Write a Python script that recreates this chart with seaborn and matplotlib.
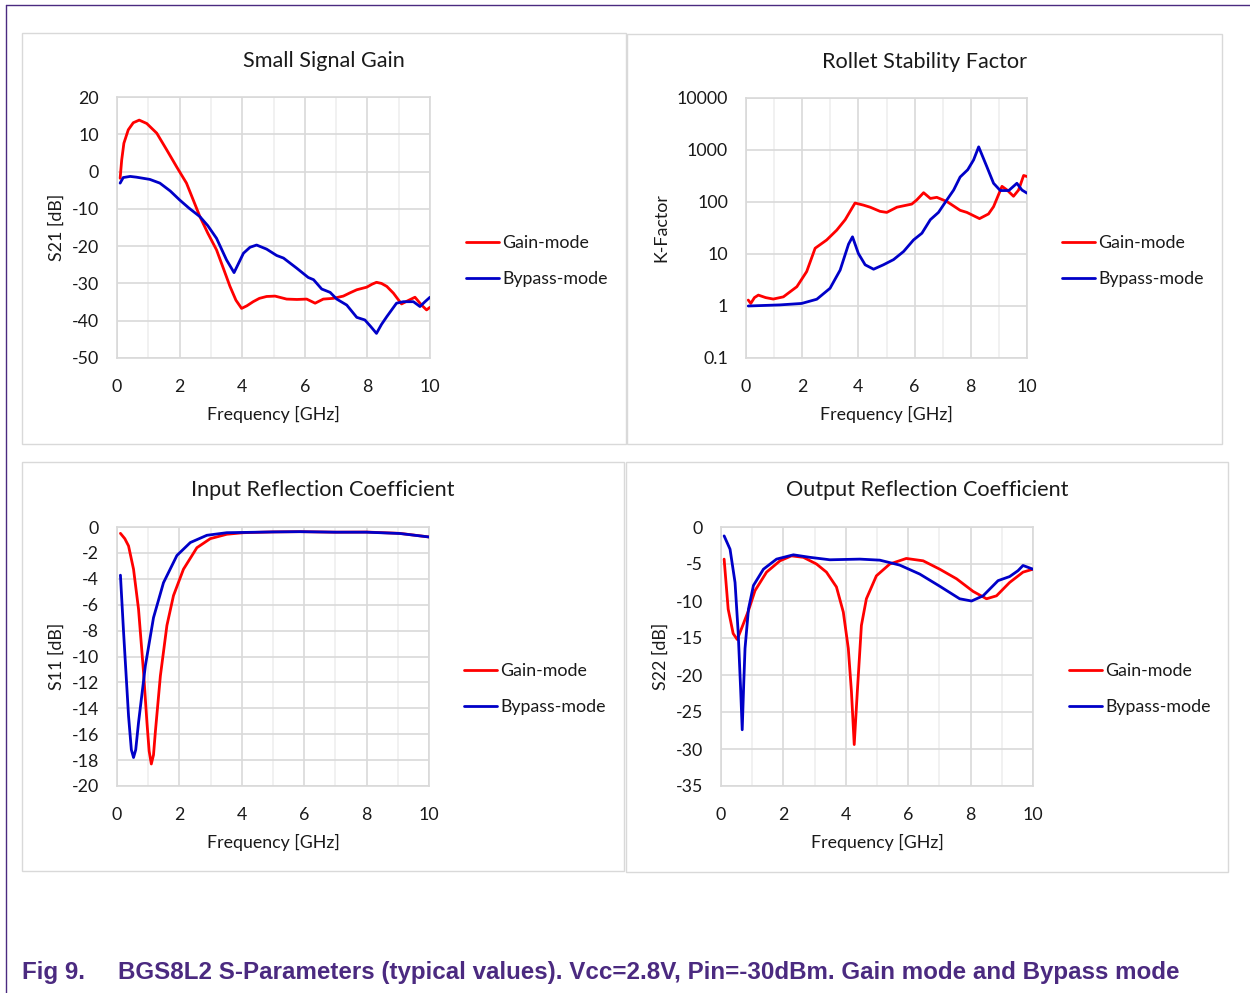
import numpy as np
import pandas as pd
import seaborn as sns
import matplotlib
matplotlib.use("Agg")
import matplotlib.pyplot as plt
from matplotlib.patches import Rectangle
from matplotlib.lines import Line2D
from matplotlib.ticker import MultipleLocator, FixedLocator, FixedFormatter

# ---------------- data ----------------
series_names = ["Gain-mode", "Bypass-mode"]

s21_gain_f = [0.1, 0.15, 0.22, 0.36, 0.52, 0.71, 0.95, 1.27, 1.59, 1.91, 2.22, 2.65, 2.9, 3.18, 3.4, 3.61, 3.8, 3.98, 4.15, 4.35, 4.55, 4.78, 5.05, 5.42, 5.75, 6.06, 6.33, 6.59, 6.91, 7.23, 7.45, 7.66, 7.98, 8.15, 8.29, 8.45, 8.62, 8.83, 9.09, 9.3, 9.52, 9.73, 9.89, 10.0]
s21_gain_v = [-1.8, 3.1, 7.6, 11.2, 13.1, 13.8, 12.9, 10.3, 5.8, 1.2, -3.1, -12.1, -16.5, -21.0, -26.0, -30.8, -34.5, -36.7, -36.0, -34.9, -34.0, -33.5, -33.4, -34.2, -34.3, -34.2, -35.3, -34.2, -34.0, -33.4, -32.5, -31.7, -31.0, -30.2, -29.7, -30.0, -30.8, -32.6, -35.5, -34.6, -33.7, -35.8, -37.1, -36.4]
s21_byp_f = [0.1, 0.2, 0.42, 0.62, 1.05, 1.37, 1.7, 2.0, 2.3, 2.65, 2.9, 3.18, 3.5, 3.74, 4.04, 4.25, 4.46, 4.78, 5.1, 5.32, 5.74, 6.11, 6.28, 6.54, 6.81, 7.02, 7.34, 7.66, 7.92, 8.1, 8.29, 8.45, 8.62, 8.93, 9.15, 9.47, 9.68, 9.84, 10.0]
s21_byp_v = [-3.1, -1.6, -1.3, -1.5, -2.1, -3.1, -5.2, -7.6, -9.8, -12.1, -14.5, -17.9, -23.7, -27.1, -21.9, -20.3, -19.7, -20.8, -22.5, -23.2, -25.9, -28.4, -29.0, -31.5, -32.4, -34.2, -35.8, -39.1, -39.8, -41.5, -43.4, -41.0, -38.9, -35.3, -34.9, -34.9, -36.2, -34.9, -33.7]

k_gain_f = [0.08, 0.17, 0.3, 0.44, 0.7, 0.97, 1.33, 1.81, 2.16, 2.46, 2.87, 3.23, 3.53, 3.88, 4.18, 4.42, 4.77, 5.01, 5.37, 5.9, 6.08, 6.32, 6.56, 6.79, 7.15, 7.62, 7.86, 8.31, 8.63, 8.81, 9.11, 9.29, 9.52, 9.7, 9.88, 10.0]
k_gain_v = [1.3, 1.12, 1.45, 1.62, 1.45, 1.36, 1.5, 2.35, 4.6, 12.9, 18.6, 28.8, 45.7, 95.5, 87.1, 79.4, 66.1, 63.1, 79.4, 91.2, 110.0, 151.0, 117.0, 123.0, 102.0, 69.2, 63.1, 47.9, 58.9, 81.3, 200.0, 170.0, 129.0, 170.0, 324.0, 309.0]
k_byp_f = [0.08, 1.21, 1.98, 2.52, 2.99, 3.35, 3.65, 3.79, 4.0, 4.24, 4.54, 4.89, 5.25, 5.61, 5.96, 6.26, 6.56, 6.85, 7.15, 7.39, 7.62, 7.89, 8.1, 8.28, 8.57, 8.81, 9.05, 9.35, 9.64, 9.82, 10.0]
k_byp_v = [1.0, 1.05, 1.12, 1.35, 2.19, 4.9, 15.5, 21.4, 10.2, 6.2, 5.1, 6.2, 7.8, 11.2, 18.6, 25.1, 45.7, 63.1, 110.0, 170.0, 302.0, 417.0, 646.0, 1150.0, 479.0, 229.0, 166.0, 166.0, 229.0, 170.0, 148.0]

s11_gain_f = [0.11, 0.25, 0.37, 0.53, 0.69, 0.85, 0.96, 1.03, 1.1, 1.17, 1.23, 1.39, 1.6, 1.81, 2.13, 2.56, 2.99, 3.52, 4.05, 5.0, 5.86, 7.0, 8.0, 9.06, 10.0]
s11_gain_v = [-0.49, -0.9, -1.46, -3.26, -6.34, -11.2, -15.1, -17.3, -18.3, -17.6, -15.8, -11.5, -7.6, -5.3, -3.26, -1.6, -0.9, -0.56, -0.44, -0.38, -0.36, -0.4, -0.39, -0.49, -0.77]
s11_byp_f = [0.11, 0.21, 0.37, 0.46, 0.53, 0.6, 0.69, 0.91, 1.17, 1.49, 1.92, 2.35, 2.88, 3.52, 4.05, 5.0, 5.86, 7.0, 8.0, 9.06, 10.0]
s11_byp_v = [-3.72, -8.1, -14.6, -17.2, -17.8, -17.2, -15.1, -10.7, -7.0, -4.3, -2.2, -1.2, -0.64, -0.44, -0.42, -0.38, -0.36, -0.4, -0.4, -0.5, -0.77]

s22_gain_f = [0.1, 0.23, 0.39, 0.52, 0.66, 0.88, 1.09, 1.46, 1.89, 2.26, 2.64, 3.06, 3.38, 3.7, 3.92, 4.08, 4.18, 4.27, 4.37, 4.5, 4.66, 4.98, 5.41, 5.94, 6.48, 7.01, 7.55, 8.08, 8.51, 8.83, 9.25, 9.68, 10.0]
s22_gain_v = [-4.34, -11.1, -14.4, -15.2, -13.7, -11.3, -8.6, -6.1, -4.57, -3.9, -4.1, -5.0, -6.1, -8.1, -11.5, -16.4, -22.2, -29.4, -22.2, -13.3, -9.7, -6.6, -5.0, -4.25, -4.57, -5.7, -7.0, -8.7, -9.7, -9.3, -7.5, -6.1, -5.7]
s22_byp_f = [0.1, 0.29, 0.45, 0.55, 0.63, 0.68, 0.73, 0.77, 0.88, 1.04, 1.36, 1.78, 2.32, 2.85, 3.49, 4.45, 5.09, 5.73, 6.37, 7.01, 7.65, 8.03, 8.4, 8.88, 9.25, 9.52, 9.68, 10.0]
s22_byp_v = [-1.2, -3.0, -7.5, -14.2, -22.0, -27.4, -21.0, -16.4, -11.1, -7.9, -5.7, -4.34, -3.76, -4.1, -4.43, -4.34, -4.48, -5.15, -6.36, -8.0, -9.7, -10.0, -9.3, -7.25, -6.7, -5.9, -5.2, -5.7]

titles = ["Small Signal Gain", "Rollet Stability Factor", "Input Reflection Coefficient", "Output Reflection Coefficient"]
ylabels = ["S21 [dB]", "K-Factor", "S11 [dB]", "S22 [dB]"]
xlabel = "Frequency [GHz]"
k_ticks = [0.1, 1, 10, 100, 1000, 10000]
k_ticklabels = ["0.1", "1", "10", "100", "1000", "10000"]
caption_num = "Fig 9."
caption_text = "BGS8L2 S-Parameters (typical values). Vcc=2.8V, Pin=-30dBm. Gain mode and Bypass mode"

# ---------------- style ----------------
sns.set_theme(style="white")
plt.rcParams['font.family'] = ['Lato', 'DejaVu Sans']
plt.rcParams['axes.unicode_minus'] = False
TXT = '#1a1a1a'
GRID = '#d9d9d9'
MINOR = '#efefef'
palette = {"Gain-mode": "#ff0000", "Bypass-mode": "#0000c8"}
FS = 12.8

W, H = 1250, 993
fig = plt.figure(figsize=(W / 100, H / 100), dpi=100)

def fx(px):
    return px / W

def fy(py):
    return 1 - py / H

# outer frame lines (purple)
PURPLE = '#4b2a80'
fig.add_artist(Line2D([fx(6), fx(1250)], [fy(5), fy(5)], color=PURPLE, lw=1.0))
fig.add_artist(Line2D([fx(6), fx(6)], [fy(5), fy(993)], color=PURPLE, lw=1.0))

# panel borders
panels = [(22, 33, 626, 444), (627, 34, 1222, 444), (22, 462, 624, 871), (626, 462, 1228, 872)]
for (x0, y0, x1, y1) in panels:
    fig.add_artist(Rectangle((fx(x0), fy(y1)), fx(x1) - fx(x0), fy(y0) - fy(y1),
                             transform=fig.transFigure, fill=False, edgecolor=GRID, lw=1.0))

# axes rects (pixel)
ax_px = [(117, 97, 430, 358), (746, 98, 1027, 358), (117, 527, 429, 786), (721, 527, 1033, 786)]
legend_pos = [(466, 261), (1062, 261), (464, 689), (1069, 689)]
title_pos = [(324, 61), (925, 62), (323, 490), (927, 490)]
ylabel_x = [57, 661, 57, 661]

datasets = [
    (s21_gain_f, s21_gain_v, s21_byp_f, s21_byp_v),
    (k_gain_f, k_gain_v, k_byp_f, k_byp_v),
    (s11_gain_f, s11_gain_v, s11_byp_f, s11_byp_v),
    (s22_gain_f, s22_gain_v, s22_byp_f, s22_byp_v),
]

for i in range(4):
    x0, y0, x1, y1 = ax_px[i]
    ax = fig.add_axes([fx(x0), fy(y1), fx(x1) - fx(x0), fy(y0) - fy(y1)])
    gf, gv, bf, bv = datasets[i]
    df = pd.concat([
        pd.DataFrame({"f": gf, "v": gv, "mode": series_names[0]}),
        pd.DataFrame({"f": bf, "v": bv, "mode": series_names[1]}),
    ], ignore_index=True)
    sns.lineplot(data=df, x="f", y="v", hue="mode", palette=palette, ax=ax,
                 linewidth=2.0, sort=False, estimator=None, legend=True, zorder=3)
    ax.set_xlim(0, 10)
    ax.xaxis.set_major_locator(MultipleLocator(2))
    ax.xaxis.set_minor_locator(MultipleLocator(1))
    if i == 0:
        ax.set_ylim(-50, 20)
        ax.yaxis.set_major_locator(MultipleLocator(10))
    elif i == 1:
        ax.set_yscale('log')
        ax.set_ylim(0.1, 10000)
        ax.yaxis.set_major_locator(FixedLocator(k_ticks))
        ax.yaxis.set_major_formatter(FixedFormatter(k_ticklabels))
        ax.yaxis.set_minor_locator(FixedLocator([]))
    elif i == 2:
        ax.set_ylim(-20, 0)
        ax.yaxis.set_major_locator(MultipleLocator(2))
    else:
        ax.set_ylim(-35, 0)
        ax.yaxis.set_major_locator(MultipleLocator(5))
    ax.grid(True, which='major', color=GRID, lw=1.2, zorder=0)
    ax.grid(True, which='minor', axis='x', color=MINOR, lw=1.2, zorder=0)
    ax.set_axisbelow(True)
    for s in ax.spines.values():
        s.set_color(GRID)
        s.set_linewidth(1.2)
    ax.tick_params(axis='both', which='both', length=0, labelsize=FS, colors=TXT)
    ax.tick_params(axis='y', pad=13)
    ax.tick_params(axis='x', pad=15)
    ax.set_xlabel(xlabel, fontsize=FS, color=TXT, labelpad=8)
    ax.set_ylabel("")
    fig.text(fx(ylabel_x[i]), fy((y0 + y1) / 2), ylabels[i], rotation=90, ha='center', va='center',
             fontsize=FS, color=TXT)
    fig.text(fx(title_pos[i][0]), fy(title_pos[i][1]), titles[i], ha='center', va='center',
             fontsize=15.6, color=TXT)
    handles, labels = ax.get_legend_handles_labels()
    ax.legend(handles, labels, loc='center left',
              bbox_to_anchor=(fx(legend_pos[i][0]), fy(legend_pos[i][1])),
              bbox_transform=fig.transFigure, frameon=False, fontsize=FS,
              handlelength=1.85, handletextpad=0.2, labelspacing=1.1,
              borderpad=0, borderaxespad=0, labelcolor=TXT)

fig.text(fx(22), fy(973), caption_num, ha='left', va='center', fontsize=17.4,
         fontweight='bold', color=PURPLE, family=['Liberation Sans', 'DejaVu Sans'])
fig.text(fx(118), fy(973), caption_text, ha='left', va='center', fontsize=17.4,
         fontweight='bold', color=PURPLE, family=['Liberation Sans', 'DejaVu Sans'])

fig.savefig("out.png", dpi=100)
